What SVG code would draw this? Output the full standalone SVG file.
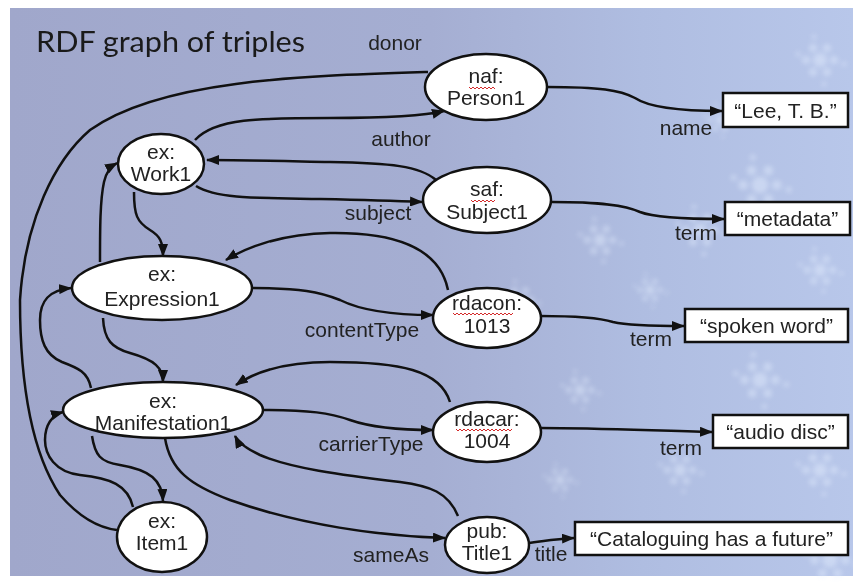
<svg xmlns="http://www.w3.org/2000/svg" xmlns:xlink="http://www.w3.org/1999/xlink" width="853" height="582" viewBox="0 0 853 582">
  <defs>
    <linearGradient id="bg" x1="0" y1="0" x2="1" y2="0">
      <stop offset="0" stop-color="#a0a7cb"/>
      <stop offset="0.5" stop-color="#a5aed2"/>
      <stop offset="0.75" stop-color="#afbde1"/>
      <stop offset="1" stop-color="#b8c7ea"/>
    </linearGradient>
    <filter id="soft" x="-20%" y="-20%" width="140%" height="140%">
      <feGaussianBlur stdDeviation="2.5"/>
    </filter>
    <g id="flake">
      <circle cx="0" cy="0" r="7"/>
      <circle cx="14" cy="0" r="4"/>
      <circle cx="-14" cy="0" r="4"/>
      <circle cx="7" cy="12" r="4"/>
      <circle cx="-7" cy="12" r="4"/>
      <circle cx="7" cy="-12" r="4"/>
      <circle cx="-7" cy="-12" r="4"/>
      <circle cx="24" cy="4" r="2.5"/>
      <circle cx="-22" cy="-6" r="2.5"/>
      <circle cx="4" cy="24" r="2.5"/>
      <circle cx="-6" cy="-23" r="2.5"/>
    </g>
    <marker id="arrow" markerWidth="13" markerHeight="10" refX="12" refY="5" orient="auto" markerUnits="userSpaceOnUse">
      <path d="M0,0 L13,5 L0,10 z" fill="#111"/>
    </marker>
    <style>
      .node ellipse { fill: #ffffff; stroke: #111; stroke-width: 2.5; }
      .node rect { fill: #ffffff; stroke: #111; stroke-width: 2.5; }
      .node text { font-family: "Liberation Sans", Arial, sans-serif; font-size: 21px; fill: #222; text-anchor: middle; }
      .edges path { fill: none; stroke: #111; stroke-width: 2.5; }
      .edges path.arr { marker-end: url(#arrow); }
      .label { font-family: "Liberation Sans", Arial, sans-serif; font-size: 21px; fill: #222; text-anchor: middle; }
      .spell { fill: none; stroke: #d42a2a; stroke-width: 1; }
      .title { font-family: Lato, "Open Sans", sans-serif; font-size: 29px; fill: #1a1a1a; }
    </style>
  </defs>

  <!-- slide background -->
  <rect x="0" y="0" width="853" height="582" fill="#ffffff"/>
  <rect x="10" y="8" width="843" height="568" fill="url(#bg)"/>
  <g fill="#e6f0ff" opacity="0.45" filter="url(#soft)">
    <use xlink:href="#flake" transform="translate(820,60)"/>
    <use xlink:href="#flake" transform="translate(760,185) scale(1.2)"/>
    <use xlink:href="#flake" transform="translate(700,230)"/>
    <use xlink:href="#flake" transform="translate(600,240) scale(0.9)"/>
    <use xlink:href="#flake" transform="translate(520,300) scale(0.8)"/>
    <use xlink:href="#flake" transform="translate(650,290) scale(0.7)"/>
    <use xlink:href="#flake" transform="translate(820,270) scale(0.9)"/>
    <use xlink:href="#flake" transform="translate(760,380) scale(1.1)"/>
    <use xlink:href="#flake" transform="translate(580,390) scale(0.8)"/>
    <use xlink:href="#flake" transform="translate(680,470) scale(0.9)"/>
    <use xlink:href="#flake" transform="translate(820,470)"/>
    <use xlink:href="#flake" transform="translate(560,480) scale(0.7)"/>
    <use xlink:href="#flake" transform="translate(830,560) scale(1.1)"/>
    <use xlink:href="#flake" transform="translate(720,120) scale(0.7)"/>
  </g>

  <text class="title" x="36" y="52" textLength="269" lengthAdjust="spacingAndGlyphs">RDF graph of triples</text>

  <!-- connectors -->
  <g class="edges">
    <!-- donor -->
    <path d="M428,72 C300,76 160,80 90,130 C55,160 25,220 20,300 C20,380 30,450 60,495 C80,518 100,528 117,530"/>
    <!-- author -->
    <path class="arr" d="M195,140 C215,118 260,118 330,118 C380,118 420,117 444,111"/>
    <!-- Subject1 back to Work1 -->
    <path class="arr" d="M436,180 C420,166 390,163 330,162 C280,161 240,160 207,160"/>
    <!-- subject -->
    <path class="arr" d="M196,186 C215,198 250,198 320,199 C370,200 400,201 422,202"/>
    <!-- Work1 to Expression1 -->
    <path class="arr" d="M134,192 C134,215 137,222 150,230 C160,236 163,242 163,256"/>
    <!-- Expression1 to Work1 -->
    <path class="arr" d="M100,262 C100,230 100,200 104,182 C106,172 110,167 117,163"/>
    <!-- rdacon:1013 to Expression1 -->
    <path class="arr" d="M448,290 C440,250 400,232 330,233 C280,234 245,248 226,260"/>
    <!-- contentType -->
    <path class="arr" d="M253,288 C300,288 320,292 340,300 C360,310 390,315 433,315"/>
    <!-- Expression1 to Manifestation1 -->
    <path class="arr" d="M103,318 C104,340 112,348 130,353 C155,360 163,368 163,382"/>
    <!-- Manifestation1 to Expression1 -->
    <path class="arr" d="M91,388 C88,372 78,368 62,362 C45,355 40,340 40,320 C40,300 50,290 71,288"/>
    <!-- rdacar:1004 to Manifestation1 -->
    <path class="arr" d="M450,402 C440,370 400,362 330,362 C285,362 255,372 236,385"/>
    <!-- carrierType -->
    <path class="arr" d="M263,410 C310,410 330,413 350,420 C370,427 400,430 433,430"/>
    <!-- Title1 to Manifestation1 -->
    <path class="arr" d="M458,516 C448,492 430,486 400,482 C340,475 290,468 260,455 C245,448 238,442 235,436"/>
    <!-- sameAs -->
    <path class="arr" d="M165,438 C170,470 190,485 230,500 C300,525 380,536 445,538"/>
    <!-- Manifestation1 to Item1 -->
    <path class="arr" d="M92,436 C95,455 100,462 120,465 C150,470 162,480 163,501"/>
    <!-- Item1 to Manifestation1 -->
    <path class="arr" d="M133,507 C128,485 110,478 80,475 C55,472 45,455 45,440 C45,425 52,415 63,412"/>
    <!-- name -->
    <path class="arr" d="M547,87 C600,87 620,90 635,98 C650,108 680,111 722,111"/>
    <!-- term: metadata -->
    <path class="arr" d="M552,202 C600,202 625,205 640,212 C655,218 690,219 724,219"/>
    <!-- term: spoken word -->
    <path class="arr" d="M540,316 C580,316 600,318 613,322 C630,326 660,326 684,326"/>
    <!-- term: audio disc -->
    <path class="arr" d="M540,428 C600,428 660,431 712,432"/>
    <!-- title -->
    <path class="arr" d="M528,543 C545,541 555,539 574,538"/>
  </g>

  <!-- connector labels -->
  <g>
    <text class="label" x="395" y="50">donor</text>
    <text class="label" x="401" y="146">author</text>
    <text class="label" x="378" y="220">subject</text>
    <text class="label" x="362" y="337">contentType</text>
    <text class="label" x="371" y="451">carrierType</text>
    <text class="label" x="391" y="562">sameAs</text>
    <text class="label" x="686" y="135">name</text>
    <text class="label" x="696" y="240">term</text>
    <text class="label" x="651" y="346">term</text>
    <text class="label" x="681" y="455">term</text>
    <text class="label" x="551" y="561">title</text>
  </g>

  <!-- resource nodes -->
  <g id="work1" class="node">
    <ellipse cx="161" cy="164" rx="43" ry="30"/>
    <text x="161" y="159">ex:</text>
    <text x="161" y="181">Work1</text>
  </g>
  <g id="expression1" class="node">
    <ellipse cx="162" cy="288" rx="90" ry="32"/>
    <text x="162" y="281">ex:</text>
    <text x="162" y="306">Expression1</text>
  </g>
  <g id="manifestation1" class="node">
    <ellipse cx="163" cy="410" rx="100" ry="28"/>
    <text x="163" y="408">ex:</text>
    <text x="163" y="430">Manifestation1</text>
  </g>
  <g id="item1" class="node">
    <ellipse cx="162" cy="537" rx="45" ry="35"/>
    <text x="162" y="528">ex:</text>
    <text x="162" y="550">Item1</text>
  </g>
  <g id="person1" class="node">
    <ellipse cx="486" cy="87" rx="61" ry="33"/>
    <text x="486" y="83">naf:</text>
    <text x="486" y="105">Person1</text>
    <path class="spell" d="M469,87 l2,2 l2,-2 l2,2 l2,-2 l2,2 l2,-2 l2,2 l2,-2 l2,2 l2,-2 l2,2 l2,-2 l2,2"/>
  </g>
  <g id="subject1" class="node">
    <ellipse cx="487" cy="200" rx="64" ry="33"/>
    <text x="487" y="196">saf:</text>
    <text x="487" y="219">Subject1</text>
    <path class="spell" d="M471,200 l2,2 l2,-2 l2,2 l2,-2 l2,2 l2,-2 l2,2 l2,-2 l2,2 l2,-2 l2,2 l2,-2"/>
  </g>
  <g id="rdacon1013" class="node">
    <ellipse cx="487" cy="318" rx="54" ry="30"/>
    <text x="487" y="310">rdacon:</text>
    <text x="487" y="333">1013</text>
    <path class="spell" d="M453,313 l2,2 l2,-2 l2,2 l2,-2 l2,2 l2,-2 l2,2 l2,-2 l2,2 l2,-2 l2,2 l2,-2 l2,2 l2,-2 l2,2 l2,-2 l2,2 l2,-2 l2,2 l2,-2 l2,2 l2,-2 l2,2 l2,-2 l2,2 l2,-2 l2,2 l2,-2 l2,2 l2,-2"/>
  </g>
  <g id="rdacar1004" class="node">
    <ellipse cx="487" cy="432" rx="54" ry="30"/>
    <text x="487" y="426">rdacar:</text>
    <text x="487" y="448">1004</text>
    <path class="spell" d="M456,429 l2,2 l2,-2 l2,2 l2,-2 l2,2 l2,-2 l2,2 l2,-2 l2,2 l2,-2 l2,2 l2,-2 l2,2 l2,-2 l2,2 l2,-2 l2,2 l2,-2 l2,2 l2,-2 l2,2 l2,-2 l2,2 l2,-2 l2,2 l2,-2 l2,2 l2,-2"/>
  </g>
  <g id="title1" class="node">
    <ellipse cx="487" cy="545" rx="42" ry="28"/>
    <text x="487" y="538">pub:</text>
    <text x="487" y="560">Title1</text>
  </g>

  <!-- literal nodes -->
  <g id="lit-name" class="node">
    <rect x="723" y="93" width="125" height="34"/>
    <text x="785.5" y="118">“Lee, T. B.”</text>
  </g>
  <g id="lit-metadata" class="node">
    <rect x="725" y="202" width="125" height="33"/>
    <text x="787.5" y="226">“metadata”</text>
  </g>
  <g id="lit-spoken" class="node">
    <rect x="685" y="309" width="163" height="33"/>
    <text x="766.5" y="333">“spoken word”</text>
  </g>
  <g id="lit-audio" class="node">
    <rect x="713" y="415" width="135" height="33"/>
    <text x="780.5" y="439">“audio disc”</text>
  </g>
  <g id="lit-title" class="node">
    <rect x="575" y="522" width="273" height="33"/>
    <text x="711.5" y="546">“Cataloguing has a future”</text>
  </g>
</svg>
